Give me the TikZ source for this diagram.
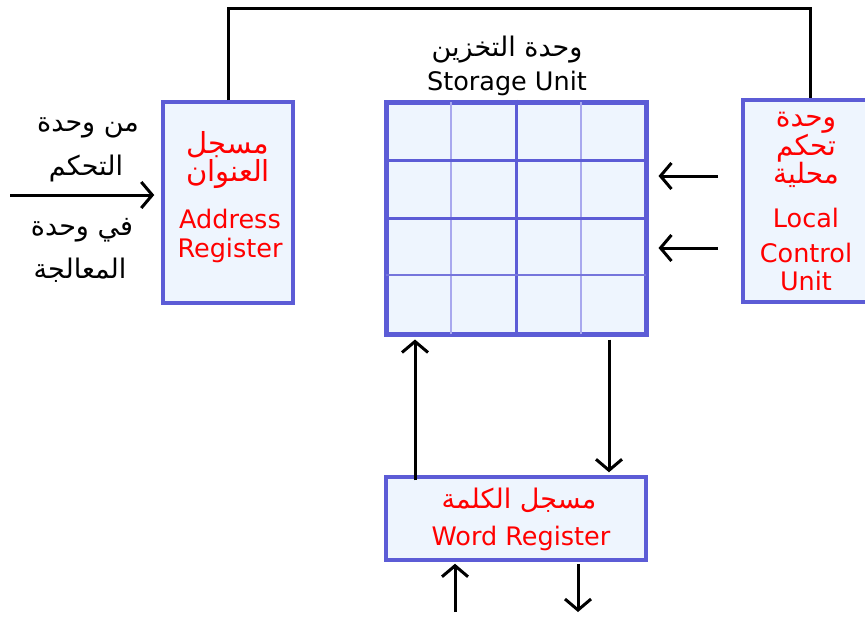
\documentclass[tikz,border=0pt]{standalone}
\usepackage{fontspec}
\setmainfont{DejaVu Sans}
\newfontfamily\arabicfont[Script=Arabic]{DejaVu Sans}
\TeXXeTstate=1
\usetikzlibrary{arrows.meta}
\newcommand\artext[1]{{\arabicfont\beginR #1\endR}}
\newcommand\arsize{\fontsize{27}{25}\selectfont}
\newcommand\arbig{\fontsize{29}{25}\selectfont}
\definecolor{boxfill}{HTML}{EEF5FE}
\definecolor{boxline}{HTML}{5C5CD6}
\definecolor{gridlight}{HTML}{A8A8EE}
\definecolor{labelred}{HTML}{FF0000}
\tikzset{
  regbox/.style={draw=boxline, fill=boxfill, line width=3.5pt, inner sep=0pt},
  conn/.style={line width=3pt, draw=black, -{Straight Barb[length=11pt,width=26pt,line width=3pt]}},
  plain/.style={line width=3pt, draw=black},
  redlbl/.style={text=labelred, font=\fontsize{25.5}{28}\selectfont, inner sep=0pt, align=center},
  blklbl/.style={text=black, font=\fontsize{25.5}{28}\selectfont, inner sep=0pt, align=center},
}
\begin{document}
\begin{tikzpicture}[x=1pt,y=-1pt]
\useasboundingbox (0,0) rectangle (865,619);

% registers and control unit
\node[regbox, minimum width=130pt, minimum height=201pt] (addr) at (228,202.5) {};
\node[regbox, minimum width=134pt, minimum height=202pt] (lcu) at (810,201) {};
\node[regbox, minimum width=260pt, minimum height=83pt] (word) at (516,518.5) {};

% storage unit grid
\node[draw=boxline, fill=boxfill, line width=5pt, inner sep=0pt,
      minimum width=260pt, minimum height=232pt] (store) at (516,218) {};
\draw[gridlight, line width=1.5pt] (451,102) -- (451,334) (581,102) -- (581,334);
\draw[boxline, line width=3pt] (store.north) -- (store.south);
\draw[boxline, line width=3pt] (386,160) -- (646,160) (386,218) -- (646,218);
\draw[boxline!85, line width=2.2pt] (386,275) -- (646,275);

% labels
\node[blklbl] (stA) at (507,50) {\arsize\artext{وحدة التخزين}};
\node[blklbl] (stE) at (507,83) {Storage Unit};

\node[redlbl] (adA) at (228,160) {\arbig\artext{مسجل}\\\arbig\artext{العنوان}};
\node[redlbl] (adE1) at (230,219) {Address};
\node[redlbl] (adE2) at (230,250) {Register};

\node[redlbl] (lcA) at (806,150) {\fontsize{28}{29}\selectfont\artext{وحدة}\\
  \fontsize{28}{29}\selectfont\artext{تحكم}\\\fontsize{28}{29}\selectfont\artext{محلية}};
\node[redlbl] (lcE1) at (806,218) {Local};
\node[redlbl] (lcE2) at (806,253) {Control};
\node[redlbl] (lcE3) at (806,281) {Unit};

\node[redlbl] (wdA) at (519,500) {\arsize\artext{مسجل الكلمة}};
\node[redlbl] (wdE) at (521,538) {Word Register};

\node[blklbl] (inA1) at (88,128) {\arsize\artext{من وحدة}};
\node[blklbl] (inA2) at (86,168) {\arsize\artext{التحكم}};
\node[blklbl] (inA3) at (82,230) {\arsize\artext{في وحدة}};
\node[blklbl] (inA4) at (80,270) {\arsize\artext{المعالجة}};

% connectors
\draw[plain] (addr.north) -- (addr.north |- 0,8) -| (lcu.north);

\coordinate (inStart) at (10,195);
\draw[conn] (inStart) -- ([xshift=-7pt]inStart -| addr.west);

\coordinate (lcIn1) at (718,176);
\coordinate (lcIn2) at (718,248);
\draw[conn, shorten >=10pt] (lcIn1) -- (lcIn1 -| store.east);
\draw[conn, shorten >=10pt] (lcIn2) -- (lcIn2 -| store.east);

\coordinate (upX) at (415,0);
\coordinate (dnX) at (609,0);
\draw[conn, shorten >=3pt] ([yshift=-5pt]upX |- word.north) -- (upX |- store.south);
\draw[conn, shorten >=3pt, shorten <=3pt] (dnX |- store.south) -- (dnX |- word.north);

\coordinate (wIn) at (455,612);
\coordinate (wOut) at (578,612);
\draw[conn, shorten >=2pt] (wIn) -- (wIn |- word.south);
\draw[conn, shorten <=2pt] (wOut |- word.south) -- (wOut);
\end{tikzpicture}
\end{document}
